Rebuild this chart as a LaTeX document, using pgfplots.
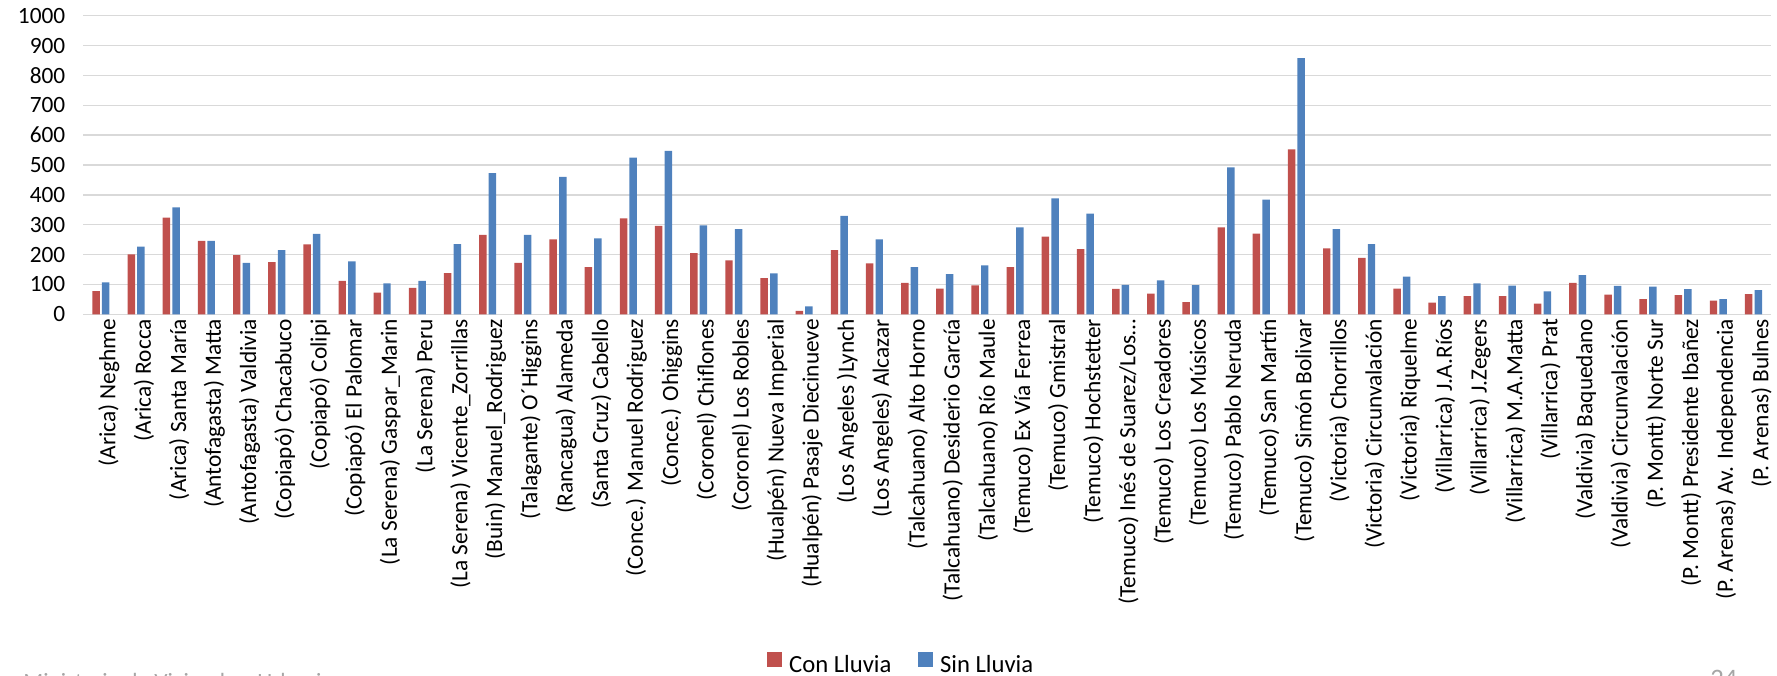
\documentclass[border=0pt]{standalone}
\usepackage{fontspec}
\setmainfont{Carlito}
\usepackage{pgfplots}
\usepackage{pgfplotstable}
\pgfplotsset{compat=1.18}
\definecolor{conll}{HTML}{C0504D}
\definecolor{sinll}{HTML}{4F81BD}
\definecolor{gridc}{HTML}{D9D9D9}
\definecolor{footc}{HTML}{A6A6A6}
\pgfplotstableread{
x con sin
0 78 107
1 201 227
2 324 358
3 246 246
4 198 172
5 175 215
6 234 269
7 112 177
8 73 104
9 89 112
10 138 235
11 266 473
12 172 266
13 251 460
14 158 254
15 321 525
16 296 547
17 205 298
18 181 285
19 121 137
20 12 27
21 215 330
22 171 251
23 105 158
24 86 135
25 97 164
26 158 291
27 260 388
28 218 337
29 85 99
30 69 114
31 41 98
32 291 492
33 270 384
34 552 858
35 221 285
36 189 235
37 86 126
38 39 61
39 61 104
40 61 96
41 36 77
42 105 131
43 66 95
44 51 93
45 64 84
46 46 51
47 68 81
}\datatable
\begin{document}
\begin{tikzpicture}
\useasboundingbox (0,0) rectangle (1332.75pt,506.25pt);
\begin{axis}[
  at={(62.5pt,270.5pt)}, anchor=south west,
  scale only axis, width=1265.8pt, height=224pt,
  xmin=-0.5, xmax=47.5, ymin=0, ymax=1000,
  ybar=1.6pt, bar width=5.6pt,
  axis line style={draw=none},
  major tick length=0pt,
  ymajorgrids, grid style={draw=gridc, line width=1.1pt},
  ytick={0,100,...,1000},
  /pgf/number format/assume math mode=true,
  /pgf/number format/1000 sep={},
  yticklabel style={font=\fontsize{17.5}{20}\selectfont, xshift=-10pt},
  xtick={0,...,47},
  xticklabel style={font=\fontsize{17.5}{20}\selectfont, rotate=90, anchor=east, yshift=-6pt},
  xticklabels={(Arica) Neghme,(Arica) Rocca,(Arica) Santa María,(Antofagasta) Matta,(Antofagasta) Valdivia,(Copiapó) Chacabuco,(Copiapó) Colipi,(Copiapó) El Palomar,(La Serena) Gaspar\_Marin,(La Serena) Peru,(La Serena) Vicente\_Zorrillas,(Buin) Manuel\_Rodriguez,(Talagante) O´Higgins,(Rancagua) Alameda,(Santa Cruz) Cabello,(Conce.) Manuel Rodriguez,(Conce.) Ohiggins,(Coronel) Chiflones,(Coronel) Los Robles,(Hualpén) Nueva Imperial,(Hualpén) Pasaje Diecinueve,(Los Angeles )Lynch,(Los Angeles) Alcazar,(Talcahuano) Alto Horno,(Talcahuano) Desiderio García,(Talcahuano) Río Maule,(Temuco) Ex Vía Ferrea,(Temuco) Gmistral,(Temuco) Hochstetter,(Temuco) Inés de Suarez/Los…,(Temuco) Los Creadores,(Temuco) Los Músicos,(Temuco) Pablo Neruda,(Temuco) San Martín,(Temuco) Simón Bolivar,(Victoria) Chorrillos,(Victoria) Circunvalación,(Victoria) Riquelme,(Villarrica) J.A.Ríos,(Villarrica) J.Zegers,(Villarrica) M.A.Matta,(Villarrica) Prat,(Valdivia) Baquedano,(Valdivia) Circunvalación,(P. Montt) Norte Sur,(P. Montt) Presidente Ibañez,(P. Arenas) Av. Independencia,(P. Arenas) Bulnes},
  legend style={at={(0.484,-1.1725)}, anchor=center, draw=none, fill=none,
    legend columns=2, font=\fontsize{18.5}{22}\selectfont,
    nodes={inner xsep=0pt},
    /tikz/every odd column/.append style={column sep=5.25pt},
    /tikz/every even column/.append style={column sep=20pt}},
  legend image code/.code={\fill[#1] (0pt,-1pt) rectangle (11.25pt,10.25pt);},
]
\addplot[fill=conll, draw=none] table[x=x, y=con] {\datatable};
\addplot[fill=sinll, draw=none] table[x=x, y=sin] {\datatable};
\legend{Con Lluvia, Sin Lluvia}
\end{axis}
\node[anchor=base west, inner sep=0pt, text=footc, font=\fontsize{17.5}{20}\selectfont] at (17.3pt,-11pt) {Ministerio de Vivienda y Urbanismo};
\node[anchor=base west, inner sep=0pt, text=footc, font=\fontsize{20}{24}\selectfont] at (1282.5pt,-9pt) {24};
\end{tikzpicture}
\end{document}
